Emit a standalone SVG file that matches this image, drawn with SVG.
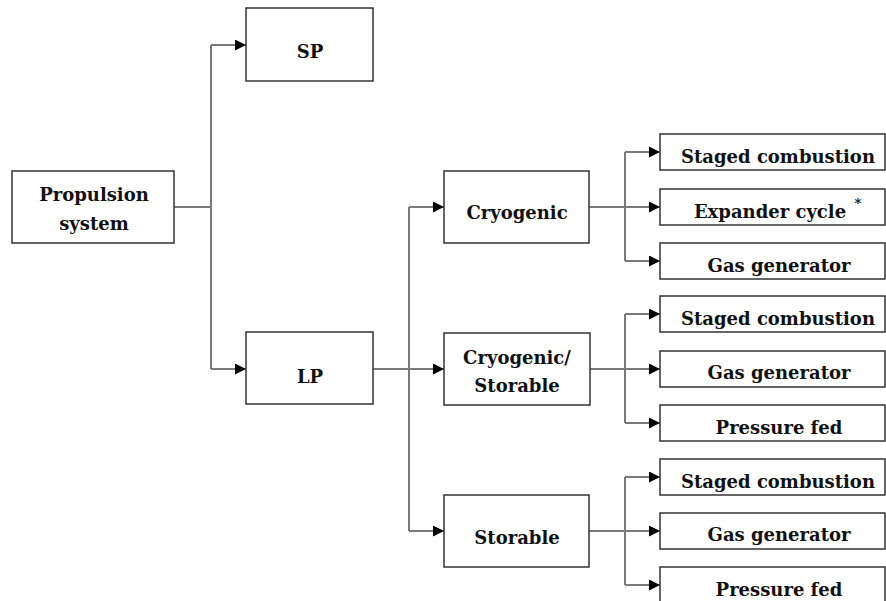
<svg xmlns="http://www.w3.org/2000/svg" width="886" height="601" viewBox="0 0 886 601">
<style>
.box{fill:#fff;stroke:#333;stroke-width:1.5}
.t{font-family:"DejaVu Serif","Liberation Serif",serif;font-weight:bold;font-size:18px;text-anchor:middle;fill:#111}
.c{fill:none;stroke:#7a7a7a;stroke-width:2}
</style>
<defs>
<marker id="ah" markerWidth="11" markerHeight="11" refX="11" refY="5.5" orient="auto" markerUnits="userSpaceOnUse">
<path d="M0,0 L11,5.5 L0,11 Z" fill="#000"/>
</marker>
</defs>
<g id="connectors">
<path class="c" d="M174,207 H211"/>
<path class="c" d="M211,45 V369"/>
<path class="c" d="M211,45 H246" marker-end="url(#ah)"/>
<path class="c" d="M211,369 H246" marker-end="url(#ah)"/>
<path class="c" d="M373,369 H444" marker-end="url(#ah)"/>
<path class="c" d="M409,207 V531"/>
<path class="c" d="M409,207 H444" marker-end="url(#ah)"/>
<path class="c" d="M409,531 H444" marker-end="url(#ah)"/>
<path class="c" d="M589,207 H660" marker-end="url(#ah)"/>
<path class="c" d="M625,152 V261"/>
<path class="c" d="M625,152 H660" marker-end="url(#ah)"/>
<path class="c" d="M625,261 H660" marker-end="url(#ah)"/>
<path class="c" d="M590,369 H660" marker-end="url(#ah)"/>
<path class="c" d="M625,314 V423"/>
<path class="c" d="M625,314 H660" marker-end="url(#ah)"/>
<path class="c" d="M625,423 H660" marker-end="url(#ah)"/>
<path class="c" d="M589,531 H660" marker-end="url(#ah)"/>
<path class="c" d="M625,477 V585"/>
<path class="c" d="M625,477 H660" marker-end="url(#ah)"/>
<path class="c" d="M625,585 H660" marker-end="url(#ah)"/>
</g>
<g id="propulsion"><rect class="box" x="12" y="171" width="162" height="72"/><text class="t" x="94" y="201">Propulsion</text><text class="t" x="94" y="230">system</text></g>
<g id="sp"><rect class="box" x="246" y="8" width="127" height="73"/><text class="t" x="310" y="58">SP</text></g>
<g id="lp"><rect class="box" x="246" y="332" width="127" height="72"/><text class="t" x="310" y="383">LP</text></g>
<g id="cryogenic"><rect class="box" x="444" y="171" width="145" height="72"/><text class="t" x="517" y="219">Cryogenic</text></g>
<g id="cryostorable"><rect class="box" x="444" y="333" width="146" height="72"/><text class="t" x="517" y="364">Cryogenic/</text><text class="t" x="517" y="392">Storable</text></g>
<g id="storable"><rect class="box" x="444" y="495" width="145" height="72"/><text class="t" x="517" y="544">Storable</text></g>
<g id="c-staged"><rect class="box" x="660" y="134" width="225" height="36"/><text class="t" x="778" y="163">Staged combustion</text></g>
<g id="c-expander"><rect class="box" x="660" y="189" width="225" height="36"/><text class="t" x="770" y="218">Expander cycle</text><text class="t" x="858" y="208" style="font-size:13px">*</text></g>
<g id="c-gas"><rect class="box" x="660" y="243" width="225" height="36"/><text class="t" x="779" y="272">Gas generator</text></g>
<g id="cs-staged"><rect class="box" x="660" y="296" width="225" height="36"/><text class="t" x="778" y="325">Staged combustion</text></g>
<g id="cs-gas"><rect class="box" x="660" y="351" width="225" height="36"/><text class="t" x="779" y="379">Gas generator</text></g>
<g id="cs-pressure"><rect class="box" x="660" y="405" width="225" height="36"/><text class="t" x="779" y="434">Pressure fed</text></g>
<g id="s-staged"><rect class="box" x="660" y="459" width="225" height="36"/><text class="t" x="778" y="488">Staged combustion</text></g>
<g id="s-gas"><rect class="box" x="660" y="513" width="225" height="36"/><text class="t" x="779" y="541">Gas generator</text></g>
<g id="s-pressure"><rect class="box" x="660" y="567" width="225" height="40"/><text class="t" x="779" y="596">Pressure fed</text></g>
</svg>
